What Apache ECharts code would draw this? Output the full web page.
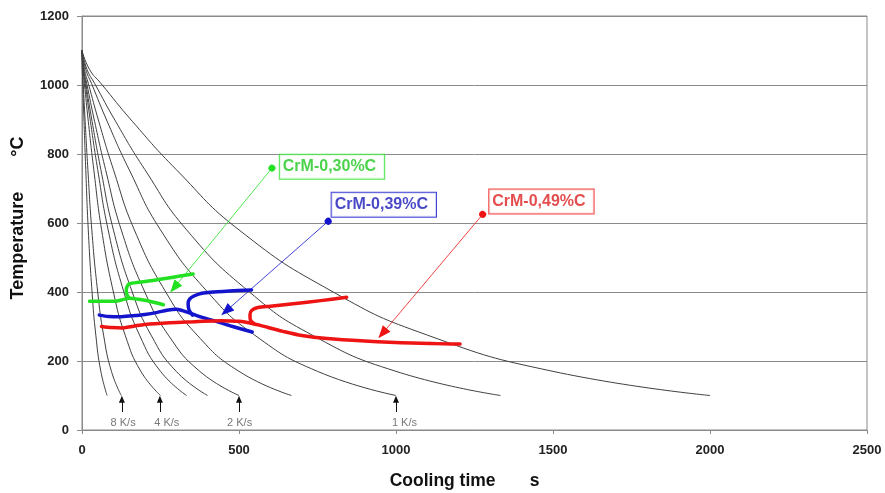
<!DOCTYPE html>
<html>
<head>
<meta charset="utf-8">
<script src="https://cdn.jsdelivr.net/npm/echarts@6.0.0/dist/echarts.min.js"></script>
<style>html,body{margin:0;padding:0;background:#fff;}#c{width:885px;height:493px;}</style>
</head>
<body>
<div id="c"></div>
<script>
// Cooling curves (time s, temperature °C)
const cool80   = [[0,1100],[1,1045],[2.4,1005],[6.4,895],[12,755],[20,580],[32,400],[44,275],[60,170],[80,100]];
const cool125  = [[0,1100],[1.5,1045],[3.75,1005],[10,895],[18.75,755],[31.25,580],[50,400],[68.75,275],[93.75,170],[125,100]];
const cool250  = [[0,1100],[3,1045],[7.5,1005],[20,895],[37.5,755],[62.5,580],[100,400],[137.5,275],[187.5,170],[250,100]];
const cool333  = [[0,1100],[4,1045],[10,1005],[26.7,895],[50,755],[83.3,580],[133.3,400],[183.3,275],[250,170],[333,100]];
const cool400  = [[0,1100],[4.8,1045],[12,1005],[32,895],[60,755],[100,580],[160,400],[220,275],[300,170],[400,100]];
const cool500  = [[0,1100],[6,1045],[15,1005],[40,895],[75,755],[125,580],[200,400],[275,275],[375,170],[500,100]];
const cool667  = [[0,1100],[8,1045],[20,1005],[53.3,895],[100,755],[166.7,580],[266.7,400],[366.7,275],[500,170],[667,100]];
const cool1000 = [[0,1100],[12,1045],[30,1005],[80,895],[150,755],[250,580],[400,400],[550,275],[750,170],[1000,100]];
const cool1333 = [[0,1100],[16,1045],[40,1005],[106.7,895],[200,755],[333.3,580],[533.3,400],[733.3,275],[1000,170],[1333,100]];
const cool2000 = [[0,1100],[24,1045],[60,1005],[160,895],[300,755],[500,580],[800,400],[1100,275],[1500,170],[2000,100]];
const coolingCurves = [cool80, cool125, cool250, cool333, cool400, cool500, cool667, cool1000, cool1333, cool2000];

// CrM-0,30%C
const greenLower = [[24,373],[105,373],[130,378],[150,382],[185,378],[225,371],[259,363]];
const greenUpper = [[150,382],[141,400],[143,415],[152,424],[180,428],[230,434],[290,443],[354,452]];
// CrM-0,39%C
const blueLower = [[55,333],[85,329],[120,328],[160,331],[200,335],[240,341],[270,347],[300,350],[320,346],[340,340],[380,327],[420,317],[480,300],[542,284]];
const blueUpper = [[352,333],[340,350],[338,368],[348,384],[372,394],[408,399],[470,403],[540,406]];
// CrM-0,49%C
const redLower = [[62,300],[95,297],[130,296],[165,301],[200,306],[280,311],[360,314],[440,317],[500,315],[545,308],[590,298],[640,286],[700,274],[780,265],[900,258],[1050,252],[1204,249]];
const redUpper = [[548,308],[536,320],[535,335],[541,347],[560,355],[600,359],[673,366],[760,375],[843,385]];

// Annotation pointers: [start dot, arrow tip]
const greenPointer = [[605,759],[294,413]];
const bluePointer  = [[784,605],[459,345]];
const redPointer   = [[1276,625],[957,280]];
const seriesNames  = ['CrM-0,30%C','CrM-0,39%C','CrM-0,49%C'];
const nameAnchors  = [[630,763],[795,653],[1297,662]];

// Cooling-rate markers
const rateLabels   = ['8 K/s','4 K/s','2 K/s','1 K/s'];
const rateTimes    = [127,248,500,1000];
const rateLabelPos = [131,270,502,1027];

// Axis ticks
const xTicks = [0,500,1000,1500,2000,2500];
const yTicks = [0,200,400,600,800,1000,1200];

const GREEN = '#22e022', BLUE = '#1414cc', RED = '#ee1414';
const FONT = 'Liberation Sans, Arial, sans-serif';

const series = [];
coolingCurves.forEach(d => series.push({
  type: 'line', data: d, smooth: 0.5, showSymbol: false, silent: true,
  lineStyle: { color: '#404040', width: 1 }, z: 2
}));
function phase(d, c) {
  return { type: 'line', data: d, smooth: 0.3, showSymbol: false, silent: true,
    lineStyle: { color: c, width: 3.5, cap: 'round', join: 'round' }, z: 4 };
}
series.push(phase(greenLower, GREEN), phase(greenUpper, GREEN),
            phase(blueLower, BLUE), phase(blueUpper, BLUE),
            phase(redLower, RED), phase(redUpper, RED));

[[greenPointer, GREEN], [bluePointer, BLUE], [redPointer, RED]].forEach(([p, c]) => {
  series.push({
    type: 'lines', coordinateSystem: 'cartesian2d', silent: true, z: 5,
    symbol: ['circle', 'triangle'], symbolSize: [7, [10, 13]],
    effect: { show: false },
    lineStyle: { color: c, width: 0.8, opacity: 1, curveness: 0 },
    data: [{ coords: p }]
  });
});

const boxColors = [['#1ec81e', GREEN], ['#1a1ab8', BLUE], ['#dd2020', RED]];
series.push({
  type: 'scatter', silent: true, z: 6, symbolSize: 0,
  data: nameAnchors.map((a, i) => ({
    value: a,
    label: {
      show: true, position: 'right', distance: 0, formatter: seriesNames[i],
      color: boxColors[i][0], fontFamily: FONT, fontWeight: 'bold', fontSize: 16,
      backgroundColor: '#fff', borderColor: boxColors[i][1], borderWidth: 1,
      padding: [3, 8, 2, 3], lineHeight: 19
    }
  }))
});

series.push({
  type: 'lines', coordinateSystem: 'cartesian2d', silent: true, z: 5,
  symbol: ['none', 'triangle'], symbolSize: [0, [6, 7]],
  effect: { show: false },
  lineStyle: { color: '#111', width: 1, opacity: 1 },
  data: rateTimes.map(t => ({ coords: [[t, 52], [t, 89]] }))
});
series.push({
  type: 'scatter', silent: true, z: 6, symbolSize: 0,
  data: rateLabelPos.map((t, i) => ({
    value: [t, 21],
    label: { show: true, position: 'inside', formatter: rateLabels[i],
      color: '#555', fontFamily: FONT, fontSize: 11 }
  }))
});

const chart = echarts.init(document.getElementById('c'), null, { renderer: 'canvas' });
chart.setOption({
  animation: false,
  backgroundColor: '#fff',
  grid: { left: 82, right: 18, top: 16, bottom: 63, containLabel: false, outerBoundsMode: 'none',
          show: true, borderColor: '#8a8a8a', borderWidth: 1 },
  xAxis: {
    type: 'value', min: xTicks[0], max: xTicks[xTicks.length - 1], interval: xTicks[1] - xTicks[0],
    name: 'Cooling time       s', nameLocation: 'middle', nameGap: 42,
    nameTextStyle: { fontFamily: FONT, fontWeight: 'bold', fontSize: 17.5, color: '#111', padding: [0, 20, 0, 0] },
    axisLine: { lineStyle: { color: '#8a8a8a', width: 1 } },
    axisTick: { show: true, length: 4, lineStyle: { color: '#8a8a8a' } },
    axisLabel: { margin: 14, fontFamily: FONT, fontWeight: 'bold', fontSize: 13, color: '#222',
                 formatter: v => String(v) },
    splitLine: { show: false }
  },
  yAxis: {
    type: 'value', min: yTicks[0], max: yTicks[yTicks.length - 1], interval: yTicks[1] - yTicks[0],
    name: 'Temperature       °C', nameLocation: 'middle', nameGap: 55,
    nameTextStyle: { fontFamily: FONT, fontWeight: 'bold', fontSize: 18, color: '#111', padding: [0, 0, 0, 10] },
    axisLine: { show: true, lineStyle: { color: '#8a8a8a', width: 1 } },
    axisTick: { show: true, length: 5, lineStyle: { color: '#8a8a8a' } },
    axisLabel: { margin: 13, fontFamily: FONT, fontWeight: 'bold', fontSize: 13, color: '#222',
                 formatter: v => String(v) },
    splitLine: { show: true, lineStyle: { color: '#8a8a8a', width: 1 } }
  },
  series: series
});
</script>
</body>
</html>
